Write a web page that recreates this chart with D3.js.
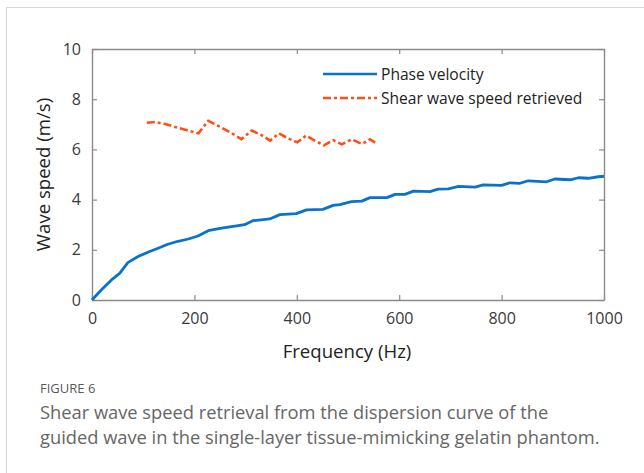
<!DOCTYPE html>
<html>
<head>
<meta charset="utf-8">
<script src="https://cdn.jsdelivr.net/npm/d3@7"></script>
<style>
  html, body { margin: 0; padding: 0; background: #fff; }
  svg { display: block; }
</style>
</head>
<body>
<svg id="chart" width="644" height="473"></svg>
<script>
// Phase velocity of the guided wave (dispersion curve)
const phaseFreq = [0, 18, 38, 54, 70, 90, 109, 129, 148, 168, 188, 207, 227, 253, 279, 298, 314, 347, 367, 399, 419, 451, 471, 484, 507, 527, 543, 576, 592, 611, 628, 660, 676, 696, 716, 748, 764, 800, 816, 836, 852, 888, 904, 934, 950, 969, 989, 1000];
const phaseSpeed = [0, 0.40, 0.80, 1.06, 1.49, 1.73, 1.90, 2.06, 2.22, 2.34, 2.43, 2.55, 2.76, 2.86, 2.94, 3.00, 3.16, 3.23, 3.40, 3.44, 3.59, 3.61, 3.77, 3.80, 3.92, 3.94, 4.08, 4.08, 4.21, 4.21, 4.34, 4.32, 4.42, 4.43, 4.53, 4.50, 4.59, 4.57, 4.67, 4.65, 4.75, 4.71, 4.82, 4.79, 4.87, 4.85, 4.91, 4.93];

// Shear wave speed retrieved from the curve
const shearFreq = [107, 123, 143, 172, 208, 227, 250, 273, 292, 312, 331, 348, 365, 383, 401, 418, 435, 453, 471, 488, 507, 527, 543, 553];
const shearSpeed = [7.06, 7.09, 7.01, 6.84, 6.64, 7.14, 6.90, 6.64, 6.41, 6.75, 6.57, 6.35, 6.64, 6.44, 6.28, 6.55, 6.35, 6.16, 6.37, 6.20, 6.40, 6.22, 6.40, 6.27];

const xTicks = [0, 200, 400, 600, 800, 1000];
const yTicks = [0, 2, 4, 6, 8, 10];
const seriesNames = ["Phase velocity", "Shear wave speed retrieved"];
const captionLabel = "FIGURE 6";
const captionLines = [
  "Shear wave speed retrieval from the dispersion curve of the",
  "guided wave in the single-layer tissue-mimicking gelatin phantom."
];

const svg = d3.select("#chart");
const font = "'Open Sans', 'Noto Sans', sans-serif";
const blue = "#0a72c8";
const orange = "#ff4f14";
const axisGrey = "#8a8a8a";

// card outline
svg.append("path")
  .attr("d", "M6.5,473 L6.5,7.5 L644,7.5")
  .attr("fill", "none").attr("stroke", "#d6d6d6").attr("stroke-width", 1);

const plot = { left: 92, right: 604, top: 49, bottom: 300 };
const x = d3.scaleLinear().domain([0, 1000]).range([plot.left, plot.right]);
const y = d3.scaleLinear().domain([0, 10]).range([plot.bottom, plot.top]);

// frame with inward ticks on every side
const tickLen = 5;
function styleAxis(g) {
  g.select(".domain").attr("stroke", axisGrey).attr("stroke-width", 1.4);
  g.selectAll(".tick line").attr("stroke", axisGrey).attr("stroke-width", 1.2);
  g.selectAll("text").attr("fill", "#3a3a3a").style("font-family", font).style("font-size", "16px");
}
svg.append("g").attr("transform", `translate(0,${plot.bottom})`)
  .call(d3.axisBottom(x).tickValues(xTicks).tickSizeInner(-tickLen).tickSizeOuter(0).tickPadding(13).tickFormat(d3.format("d")))
  .call(styleAxis);
svg.append("g").attr("transform", `translate(0,${plot.top})`)
  .call(d3.axisTop(x).tickValues(xTicks).tickSizeInner(-tickLen).tickSizeOuter(0).tickFormat(""))
  .call(styleAxis);
svg.append("g").attr("transform", `translate(${plot.left},0)`)
  .call(d3.axisLeft(y).tickValues(yTicks).tickSizeInner(-tickLen).tickSizeOuter(0).tickPadding(11).tickFormat(d3.format("d")))
  .call(styleAxis);
svg.append("g").attr("transform", `translate(${plot.right},0)`)
  .call(d3.axisRight(y).tickValues(yTicks).tickSizeInner(-tickLen).tickSizeOuter(0).tickFormat(""))
  .call(styleAxis);

// axis titles
svg.append("text")
  .attr("x", 347).attr("y", 358)
  .attr("text-anchor", "middle")
  .style("font-family", font).style("font-size", "18.6px").attr("fill", "#222")
  .text("Frequency (Hz)");
svg.append("text")
  .attr("transform", `translate(50,${(plot.top + plot.bottom) / 2}) rotate(-90)`)
  .attr("text-anchor", "middle")
  .style("font-family", font).style("font-size", "18.6px").attr("fill", "#222")
  .text("Wave speed (m/s)");

// series
const line = d3.line().x(d => x(d[0])).y(d => y(d[1]));
const phaseData = phaseFreq.map((f, i) => [f, phaseSpeed[i]]);
const shearData = shearFreq.map((f, i) => [f, shearSpeed[i]]);

svg.append("path").datum(phaseData)
  .attr("d", line).attr("fill", "none")
  .attr("stroke", blue).attr("stroke-width", 2.8).attr("stroke-linejoin", "round");
svg.append("path").datum(shearData)
  .attr("d", line).attr("fill", "none")
  .attr("stroke", orange).attr("stroke-width", 2.6)
  .attr("stroke-dasharray", "8,3,3,3");

// legend
const legend = svg.append("g");
const legendItems = [
  { name: seriesNames[0], color: blue, dash: null, y: 74 },
  { name: seriesNames[1], color: orange, dash: "8,3,3,3", y: 98 }
];
legendItems.forEach(it => {
  legend.append("line")
    .attr("x1", 323).attr("x2", 377).attr("y1", it.y).attr("y2", it.y)
    .attr("stroke", it.color).attr("stroke-width", 2.6)
    .attr("stroke-dasharray", it.dash);
  legend.append("text")
    .attr("x", 381).attr("y", it.y + 5.5)
    .style("font-family", font).style("font-size", "15.6px").attr("fill", "#222")
    .text(it.name);
});

// caption
svg.append("text")
  .attr("x", 40).attr("y", 393)
  .style("font-family", font).style("font-size", "13px").attr("fill", "#5a5a5a")
  .text(captionLabel);
captionLines.forEach((t, i) => {
  svg.append("text")
    .attr("x", 40).attr("y", 419 + i * 25)
    .style("font-family", font).style("font-size", "18.3px").attr("fill", "#666")
    .text(t);
});
</script>
</body>
</html>
